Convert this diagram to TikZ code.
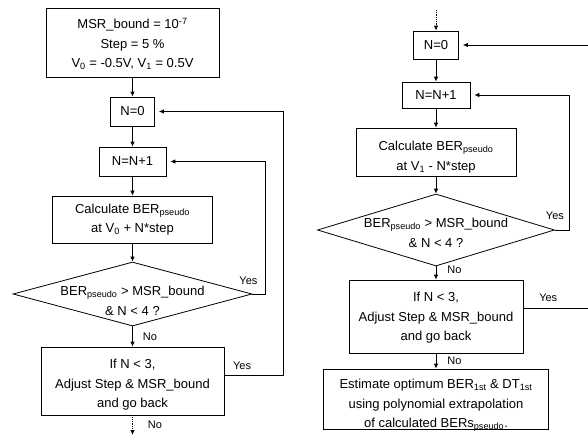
\documentclass[tikz,border=0pt]{standalone}
\usepackage{fontspec}
\setmainfont{Liberation Sans}
\usetikzlibrary{positioning,arrows.meta,shapes.geometric}

\begin{document}
\begin{tikzpicture}[x=1pt, y=-1pt, on grid, auto, line width=0.8pt,
  font=\fontsize{13}{19.5}\selectfont,
  >={Latex[length=5pt,width=4.5pt]},
  box/.style 2 args={draw, rectangle, align=center, inner sep=0pt,
    minimum width=#1pt, minimum height=#2pt},
  test/.style 2 args={draw, diamond, aspect=3.7, inner sep=-12pt, align=center,
    minimum width=#1pt, minimum height=#2pt, text depth=0pt},
  lbl/.style={font=\fontsize{11}{13}\selectfont, inner sep=2pt}]

  \useasboundingbox (0,0) rectangle (588,439);

  % first sweep
  \node[box={173}{69}, text height=50pt, text depth=0pt] (init) at (132.5,42.5)
    {MSR\_bound = 10\textsuperscript{-7}\\ Step = 5 \%\\ V\textsubscript{0} = -0.5V, V\textsubscript{1} = 0.5V};
  \node[box={44}{29}] (n0L) [below=69pt of init] {N=0};
  \node[box={67}{29}] (incL) [below=50pt of n0L] {N=N+1};
  \node[box={160}{47}] (calcL) [below=58pt of incL]
    {Calculate BER\textsubscript{pseudo}\\ at V\textsubscript{0} + N*step};
  \node[test={239}{64}, text height=42pt] (decL) [below=74.5pt of calcL]
    {BER\textsubscript{pseudo} > MSR\_bound\\ \& N < 4 ?};
  \node[box={183}{68}, text height=53pt, text depth=0pt] (adjL) [below=87pt of decL]
    {If N < 3,\\ Adjust Step \& MSR\_bound\\ and go back};
  \coordinate (endL) at (132.5,435);

  % second sweep
  \coordinate (startR) at (436,10);
  \node[box={45}{28}] (n0R) at (436,45) {N=0};
  \node[box={68}{26}] (incR) [below=50pt of n0R] {N=N+1};
  \node[box={160}{48}, text height=36pt, text depth=0pt] (calcR) [below=57pt of incR]
    {Calculate BER\textsubscript{pseudo}\\ at V\textsubscript{1} - N*step};
  \node[test={237}{72}, text height=34pt] (decR) [below=78pt of calcR]
    {BER\textsubscript{pseudo} > MSR\_bound\\ \& N < 4 ?};
  \node[box={174}{73}, text height=48pt, text depth=0pt] (adjR) [below=86.5pt of decR]
    {If N < 3,\\ Adjust Step \& MSR\_bound\\ and go back};
  \node[box={225}{60}, text height=57pt, text depth=0pt] (finR) [below=82.5pt of adjR]
    {Estimate optimum BER\textsubscript{1st} \& DT\textsubscript{1st}\\ using polynomial extrapolation\\ of calculated BERs\textsubscript{pseudo}.};

  \path[->]
    (init) edge (n0L)
    (n0L) edge (incL)
    (incL) edge (calcL)
    (calcL) edge (decL)
    (decL) edge node[lbl, xshift=8pt] {No} (adjL)
    (adjL) edge[densely dotted] node[lbl, xshift=13pt] {No} (endL)

    (startR) edge[densely dotted] (n0R)
    (n0R) edge (incR)
    (incR) edge (calcR)
    (calcR) edge (decR)
    (decR) edge node[lbl, xshift=9pt, yshift=3pt] {No} (adjR)
    (adjR) edge node[lbl, xshift=9pt] {No} (finR);

  % back loops
  \draw[->, shorten >=4pt] (decL.east)
    node[lbl, anchor=south, xshift=-4pt, yshift=7pt] {Yes} -- ++(13,0) |- (incL.east);
  \draw[->, shorten >=4pt] ([yshift=6pt]adjL.east)
    -- node[lbl, pos=0.3, anchor=south, yshift=3pt] {Yes} ++(59,0) |- (n0L.east);
  \draw[->, shorten >=4pt] (decR.east)
    node[lbl, anchor=south, yshift=8pt] {Yes} -- ++(14.5,0) |- (incR.east);
  \draw[->, shorten >=4pt] ([yshift=8.5pt]adjR.east)
    -- node[lbl, pos=0.385, anchor=south, yshift=4pt] {Yes} ++(64.5,0) |- (n0R.east);

\end{tikzpicture}
\end{document}
